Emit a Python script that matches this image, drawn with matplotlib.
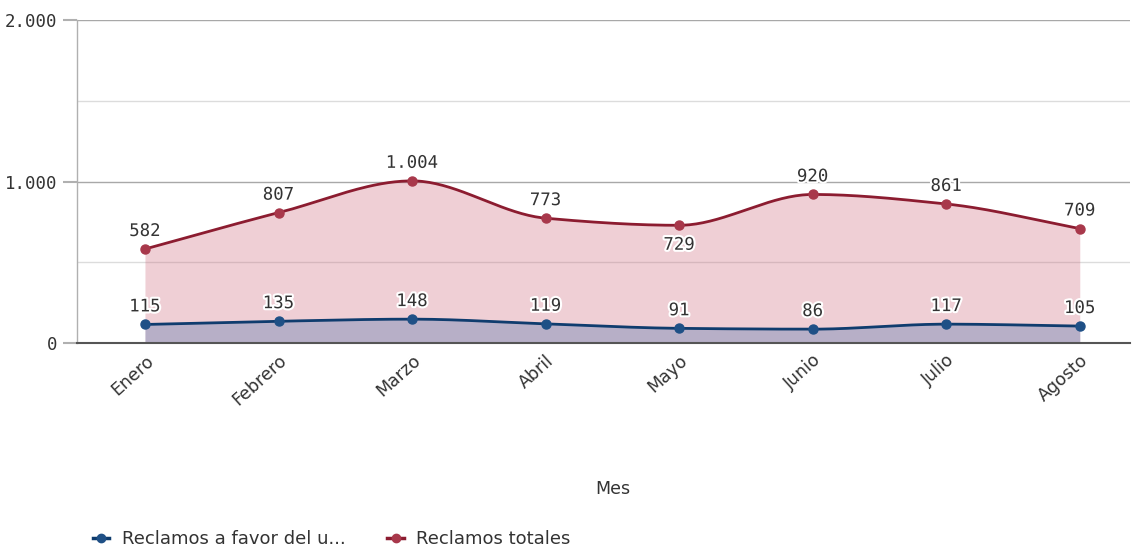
import matplotlib
matplotlib.use("Agg")

import matplotlib.pyplot as plt
import matplotlib.patheffects as pe
from matplotlib.lines import Line2D
import numpy as np

# Datos
MESES = ["Enero", "Febrero", "Marzo", "Abril", "Mayo", "Junio", "Julio", "Agosto"]
RECLAMOS_TOTALES = [582, 807, 1004, 773, 729, 920, 861, 709]
RECLAMOS_FAVOR = [115, 135, 148, 119, 91, 86, 117, 105]
ETIQUETAS_Y = ["0", "1.000", "2.000"]

RED_LINE = "#8c1c30"
RED_MARK = "#a8384b"
BLUE_LINE = "#0f3c6e"
BLUE_MARK = "#1f5086"
TEXT = "#333333"
MONO = "DejaVu Sans Mono"
SANS = "DejaVu Sans"


def monotone_curve(x, y, n=40):
    """Curva monotona (Fritsch-Carlson) solo para el trazado suave."""
    x = np.asarray(x, float)
    y = np.asarray(y, float)
    h = np.diff(x)
    d = np.diff(y) / h
    m = np.zeros_like(y)
    m[0], m[-1] = d[0], d[-1]
    for i in range(1, len(y) - 1):
        if d[i - 1] * d[i] <= 0:
            m[i] = 0
        else:
            m[i] = 2 / (1 / d[i - 1] + 1 / d[i])
    xs, ys = [], []
    for i in range(len(x) - 1):
        t = np.linspace(0, 1, n)
        h00 = 2 * t**3 - 3 * t**2 + 1
        h10 = t**3 - 2 * t**2 + t
        h01 = -2 * t**3 + 3 * t**2
        h11 = t**3 - t**2
        xs.append(x[i] + t * h[i])
        ys.append(h00 * y[i] + h10 * h[i] * m[i] + h01 * y[i + 1] + h11 * h[i] * m[i + 1])
    return np.concatenate(xs), np.concatenate(ys)


fig = plt.figure(figsize=(11.32, 5.48), dpi=100)
ax = fig.add_axes([0.068, 0.374, 0.93, 0.5895])

x = np.arange(len(MESES))

# Rejilla
for v, c in [(500, "#dcdcdc"), (1500, "#dcdcdc"), (1000, "#a8a8a8"), (2000, "#a8a8a8")]:
    ax.axhline(v, color=c, linewidth=1, zorder=1)

# Reclamos totales
xr, yr = monotone_curve(x, RECLAMOS_TOTALES)
ax.fill_between(xr, yr, 0, color="#ca6276", alpha=0.3, linewidth=0, zorder=2)
ax.plot(xr, yr, color=RED_LINE, linewidth=2, zorder=4)
ax.plot(x, RECLAMOS_TOTALES, "o", color=RED_MARK, markersize=6.5, zorder=5)

# Reclamos a favor
xb, yb = monotone_curve(x, RECLAMOS_FAVOR)
ax.fill_between(xb, yb, 0, color="#3865a7", alpha=0.3, linewidth=0, zorder=3)
ax.plot(xb, yb, color=BLUE_LINE, linewidth=2, zorder=4)
ax.plot(x, RECLAMOS_FAVOR, "o", color=BLUE_MARK, markersize=6.5, zorder=5)

halo = [pe.withStroke(linewidth=3, foreground="white")]


def fmt(v):
    return f"{v:,}".replace(",", ".")


for xi, v in zip(x, RECLAMOS_TOTALES):
    below = MESES[xi] == "Mayo"
    ax.annotate(fmt(v), (xi, v), textcoords="offset points",
                xytext=(0, -14 if below else 13), ha="center",
                va="center", fontsize=12.5, family=MONO, color=TEXT,
                path_effects=halo, zorder=6)

for xi, v in zip(x, RECLAMOS_FAVOR):
    ax.annotate(fmt(v), (xi, v), textcoords="offset points",
                xytext=(0, 13), ha="center", va="center",
                fontsize=12.5, family=MONO, color=TEXT,
                path_effects=halo, zorder=6)

ax.set_xlim(-0.509, 7.374)
ax.set_ylim(0, 2000)

ax.set_yticks([0, 1000, 2000])
ax.set_yticklabels(ETIQUETAS_Y, family=MONO, fontsize=12.5, color=TEXT)
ax.tick_params(axis="y", length=10, width=1.5, color="#b0b0b0", pad=4)

ax.set_xticks(x)
ax.set_xticklabels(MESES, rotation=42, ha="right", rotation_mode="anchor",
                   fontsize=12.5, family=SANS, color=TEXT)
ax.tick_params(axis="x", length=0, pad=6)

for s in ["top", "right"]:
    ax.spines[s].set_visible(False)
ax.spines["left"].set_color("#b0b0b0")
ax.spines["left"].set_linewidth(1)
ax.spines["bottom"].set_color("#555555")
ax.spines["bottom"].set_linewidth(1.5)
ax.spines["bottom"].set_zorder(7)

fig.text(0.541, 0.108, "Mes", ha="center", va="center",
         fontsize=12.5, family=SANS, color=TEXT)

handles = [
    Line2D([0], [0], color=BLUE_LINE, marker="o", markersize=6, linewidth=2.5,
           markerfacecolor=BLUE_MARK, markeredgecolor=BLUE_MARK),
    Line2D([0], [0], color=RED_LINE, marker="o", markersize=6, linewidth=2.5,
           markerfacecolor=RED_MARK, markeredgecolor=RED_MARK),
]
fig.legend(handles, ["Reclamos a favor del u...", "Reclamos totales"],
           loc="lower left", bbox_to_anchor=(0.068, -0.03), ncol=2,
           frameon=False, handlelength=0.9, handletextpad=0.7,
           columnspacing=2.3, prop={"family": SANS, "size": 13},
           labelcolor=TEXT)

plt.savefig("out.png", dpi=100)
plt.close()
